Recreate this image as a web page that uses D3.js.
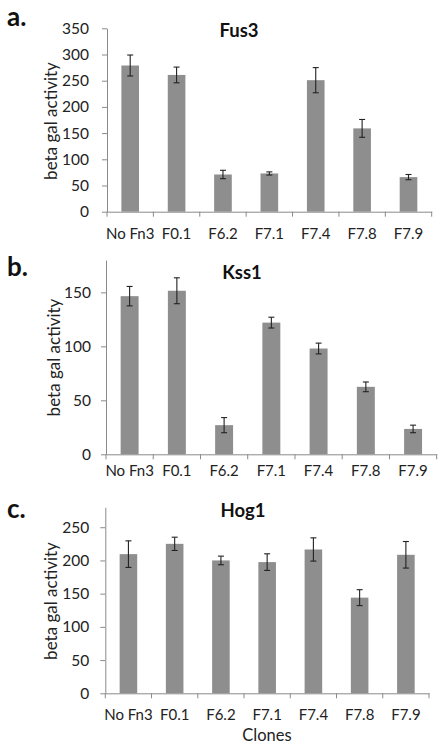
<!DOCTYPE html>
<html><head><meta charset="utf-8">
<script src="https://cdn.jsdelivr.net/npm/d3@7"></script>
<style>
html,body{margin:0;padding:0;background:#fff;}
svg{display:block;font-family:Lato, "Open Sans", sans-serif;}
</style></head>
<body>
<svg id="chart" width="447" height="750"></svg>
<script>
const categories = ["No Fn3","F0.1","F6.2","F7.1","F7.4","F7.8","F7.9"];
const fus3Values = [279, 261, 71, 73, 251, 159, 66];
const fus3Errors = [20, 15, 8, 3, 24, 17, 5];
const kss1Values = [146.5, 151.5, 27, 122, 98, 62.5, 23.5];
const kss1Errors = [9, 12, 7, 5, 5, 4.5, 3.5];
const hog1Values = [209.5, 225, 200, 197.5, 216.5, 144, 208.5];
const hog1Errors = [20, 10, 6.5, 12.5, 17.5, 12, 20];
const fus3Ticks = [0,50,100,150,200,250,300,350];
const kss1Ticks = [0,50,100,150];
const hog1Ticks = [0,50,100,150,200,250];
const panelLetters = ["a.","b.","c."];
const panelTitles = ["Fus3","Kss1","Hog1"];
const yLabel = "beta gal activity";
const xLabel = "Clones";

const svg = d3.select("#chart");
const axisColor = "#8a8a8a";
const barColor = "#8e8e8e";

const panels = [
  {letter: panelLetters[0], title: panelTitles[0], values: fus3Values, errors: fus3Errors, ticks: fus3Ticks,
   yMax: 350, x0: 107, x1: 431.7, yTop: 28.3, yBottom: 211.7, tickPad: 13,
   letterY: 26, titleX: 239, titleY: 37, labelX: 57, labelY: 121, xLabY: 239},
  {letter: panelLetters[1], title: panelTitles[1], values: kss1Values, errors: kss1Errors, ticks: kss1Ticks,
   yMax: 180, x0: 106, x1: 436.7, yTop: 260, yBottom: 454.3, tickPad: 10,
   letterY: 276, titleX: 242, titleY: 279, labelX: 60, labelY: 357.5, xLabY: 476},
  {letter: panelLetters[2], title: panelTitles[2], values: hog1Values, errors: hog1Errors, ticks: hog1Ticks,
   yMax: 280, x0: 105.3, x1: 429, yTop: 507.3, yBottom: 693.3, tickPad: 11,
   letterY: 518, titleX: 243, titleY: 517, labelX: 57, labelY: 601, xLabY: 720}
];

panels.forEach(p => {
  const g = svg.append("g");
  const x = d3.scaleBand().domain(categories).range([p.x0, p.x1]).paddingInner(0.62).paddingOuter(0.31);
  const y = d3.scaleLinear().domain([0, p.yMax]).range([p.yBottom, p.yTop]);

  // y axis
  const ya = g.append("g").attr("transform", `translate(${p.x0},0)`)
    .call(d3.axisLeft(y).tickValues(p.ticks).tickSize(5).tickSizeOuter(0).tickPadding(p.tickPad));
  ya.select(".domain").attr("stroke", axisColor);
  ya.selectAll(".tick line").attr("stroke", axisColor);
  ya.selectAll(".tick text").attr("fill", "#222").style("font-size", "15.5px").style("font-family", "Lato, sans-serif");

  // x axis
  const xa = g.append("g").attr("transform", `translate(0,${p.yBottom})`)
    .call(d3.axisBottom(x).tickSize(0));
  xa.select(".domain").attr("stroke", axisColor);
  xa.selectAll(".tick text").attr("fill", "#222").style("font-size", "15px").style("font-family", "Lato, sans-serif")
    .attr("dy", null).attr("y", p.xLabY - p.yBottom);
  const gap = x.step() - x.bandwidth();
  const bounds = categories.map(c => x(c) - gap / 2).concat([p.x1]);
  g.append("g").selectAll("line").data(bounds).join("line")
    .attr("x1", d => d).attr("x2", d => d)
    .attr("y1", p.yBottom).attr("y2", p.yBottom + 5)
    .attr("stroke", axisColor);

  // bars
  g.append("g").selectAll("rect").data(p.values).join("rect")
    .attr("x", (d, i) => x(categories[i]))
    .attr("width", x.bandwidth())
    .attr("y", d => y(d))
    .attr("height", d => y(0) - y(d))
    .attr("fill", barColor);

  // error bars
  const eb = g.append("g").attr("stroke", "#222").attr("stroke-width", 1.1);
  p.values.forEach((v, i) => {
    const cx = x(categories[i]) + x.bandwidth() / 2;
    const top = y(v + p.errors[i]), bot = y(v - p.errors[i]);
    eb.append("line").attr("x1", cx).attr("x2", cx).attr("y1", top).attr("y2", bot);
    eb.append("line").attr("x1", cx - 3).attr("x2", cx + 3).attr("y1", top).attr("y2", top);
    eb.append("line").attr("x1", cx - 3).attr("x2", cx + 3).attr("y1", bot).attr("y2", bot);
  });

  // labels
  g.append("text").attr("x", 7).attr("y", p.letterY).text(p.letter)
    .style("font-size", "26px").style("font-weight", "bold").attr("fill", "#111");
  g.append("text").attr("x", p.titleX).attr("y", p.titleY).attr("text-anchor", "middle").text(p.title)
    .style("font-size", "18.5px").style("font-weight", "bold").attr("fill", "#111");
  g.append("text").attr("transform", `translate(${p.labelX},${p.labelY}) rotate(-90)`)
    .attr("text-anchor", "middle").text(yLabel).style("font-size", "17px").attr("fill", "#222");
});

svg.append("text").attr("x", 267).attr("y", 741).attr("text-anchor", "middle").text(xLabel)
  .style("font-size", "16.5px").attr("fill", "#222");
</script>
</body></html>
